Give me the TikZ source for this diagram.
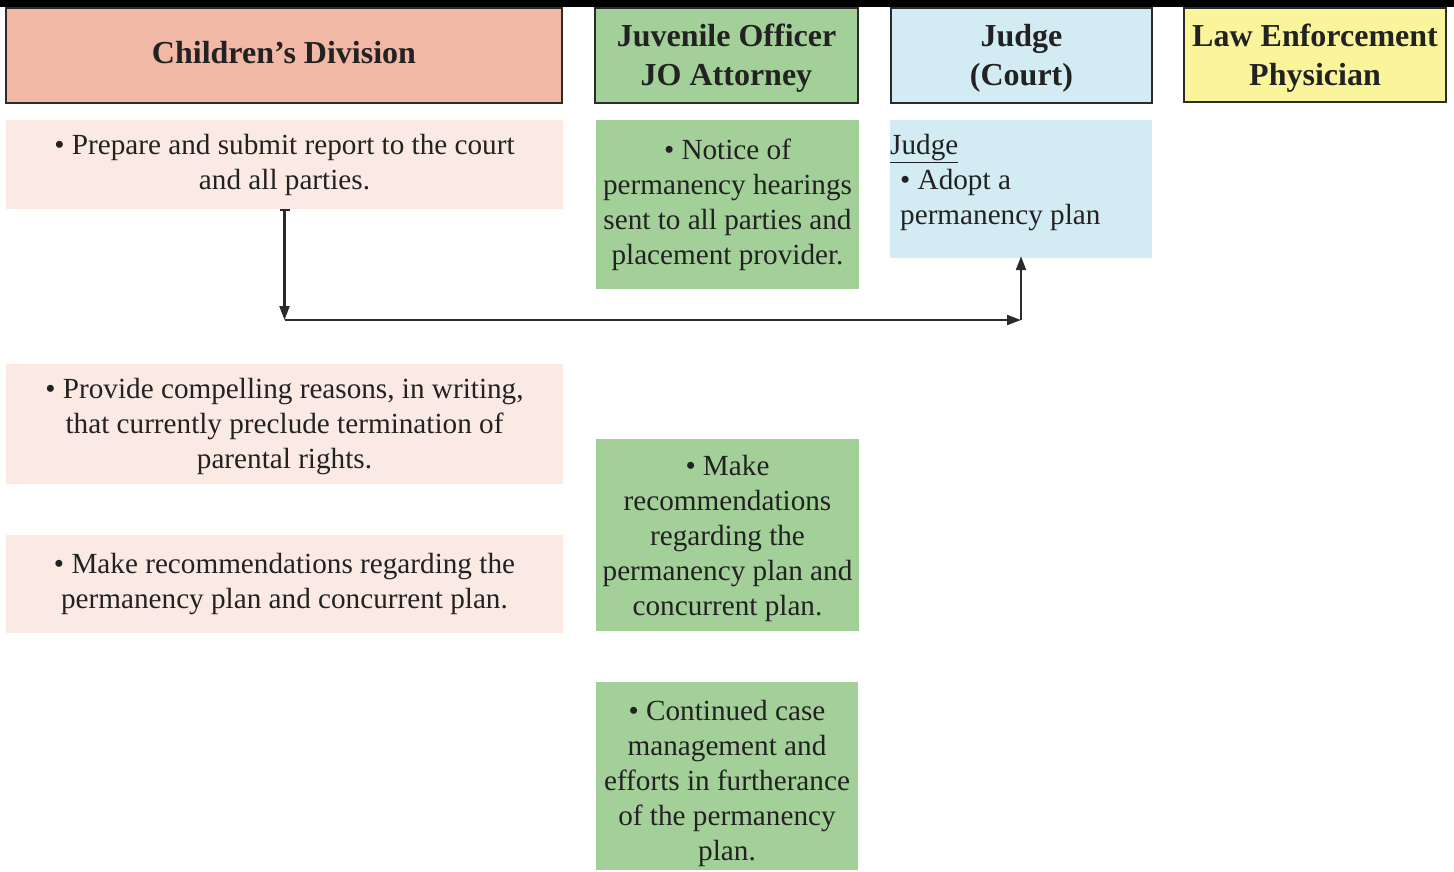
\documentclass[tikz,border=0pt]{standalone}
\usepackage{fontspec}
\setmainfont{Liberation Serif}
\usetikzlibrary{arrows.meta}
\definecolor{cdhead}{HTML}{F0B8A5}
\definecolor{cdbody}{HTML}{FAEAE3}
\definecolor{jogreen}{HTML}{A3CF98}
\definecolor{judgeblue}{HTML}{D3EBF2}
\definecolor{lawyellow}{HTML}{FAF59A}
\definecolor{edge}{HTML}{2B2B2B}
\definecolor{txt}{HTML}{222222}
\begin{document}
\begin{tikzpicture}[x=1pt,y=-1pt,
  head/.style={rectangle, draw=edge, line width=2.5pt, inner sep=0pt, minimum height=95pt},
  headtext/.style={align=center, text=txt, inner sep=0pt, font=\fontsize{32}{39}\selectfont\bfseries},
  cell/.style={rectangle, inner sep=0pt, align=center, text=txt,
    font=\fontsize{29.2}{35}\selectfont},
  link/.style={draw=edge, line width=2.2pt},
  tip/.style={-{Triangle[length=14pt,width=10pt]}}
]
\useasboundingbox (0,0) rectangle (1454,871);
\fill[black] (0,0) rectangle (1454,7);
% headers
\node[head, fill=cdhead, minimum width=556pt] (hcd) at (284,55.5) {};
\node[headtext] (hcdt) at (284,53) {Children’s Division};
\node[head, fill=jogreen, minimum width=263pt] (hjo) at (726.5,55.5) {};
\node[headtext] (hjot) at (726.5,58) {Juvenile Officer\\JO Attorney};
\node[head, fill=judgeblue, minimum width=261pt] (hju) at (1021.5,55.5) {};
\node[headtext] (hjut) at (1021.5,58) {Judge\\(Court)};
\node[head, fill=lawyellow, minimum width=262pt, minimum height=94pt] (hlaw) at (1315,55) {};
\node[headtext] (hlawt) at (1315,58) {Law Enforcement\\Physician};
% Children's Division cells
\node[cell, fill=cdbody, minimum width=557pt, minimum height=89pt] (cd1) at (284.5,164.5)
  {• Prepare and submit report to the court\\and all parties.};
\node[cell, fill=cdbody, minimum width=557pt, minimum height=120pt] (cd2) at (284.5,424) {};
\node[cell] (cd2t) at (284.5,427)
  {• Provide compelling reasons, in writing,\\that currently preclude termination of\\parental rights.};
\node[cell, fill=cdbody, minimum width=557pt, minimum height=98pt] (cd3) at (284.5,584)
  {• Make recommendations regarding the\\permanency plan and concurrent plan.};
% Juvenile Officer cells
\node[cell, fill=jogreen, minimum width=263pt, minimum height=169pt] (jo1) at (727.5,204.5)
  {• Notice of\\permanency hearings\\sent to all parties and\\placement provider.};
\node[cell, fill=jogreen, minimum width=263pt, minimum height=192pt] (jo2) at (727.5,535) {};
\node[cell] (jo2t) at (727.5,538)
  {• Make\\recommendations\\regarding the\\permanency plan and\\concurrent plan.};
\node[cell, fill=jogreen, minimum width=262pt, minimum height=188pt] (jo3) at (727,776) {};
\node[cell] (jo3t) at (727,783)
  {• Continued case\\management and\\efforts in furtherance\\of the permanency\\plan.};
% Judge cell
\node[cell, fill=judgeblue, minimum width=262pt, minimum height=138pt] (ju1) at (1021,189) {};
\node[cell, anchor=north west, align=left] (ju1t) at (890,134)
  {\underline{Judge}\\\hspace*{10pt}• Adopt a\\\hspace*{10pt}permanency plan};
% connectors
\coordinate (bend1) at (cd1.south |- 0,320);
\coordinate (bend2) at (ju1.south |- 0,320);
\draw[link, {Bar[width=10pt,line width=2pt]}-{Triangle[length=14pt,width=10pt]}] (cd1.south) -- (bend1);
\draw[link, tip] (bend1) -- (bend2);
\draw[link, tip] (bend2) -- ([yshift=2pt]ju1.south);
\end{tikzpicture}
\end{document}
